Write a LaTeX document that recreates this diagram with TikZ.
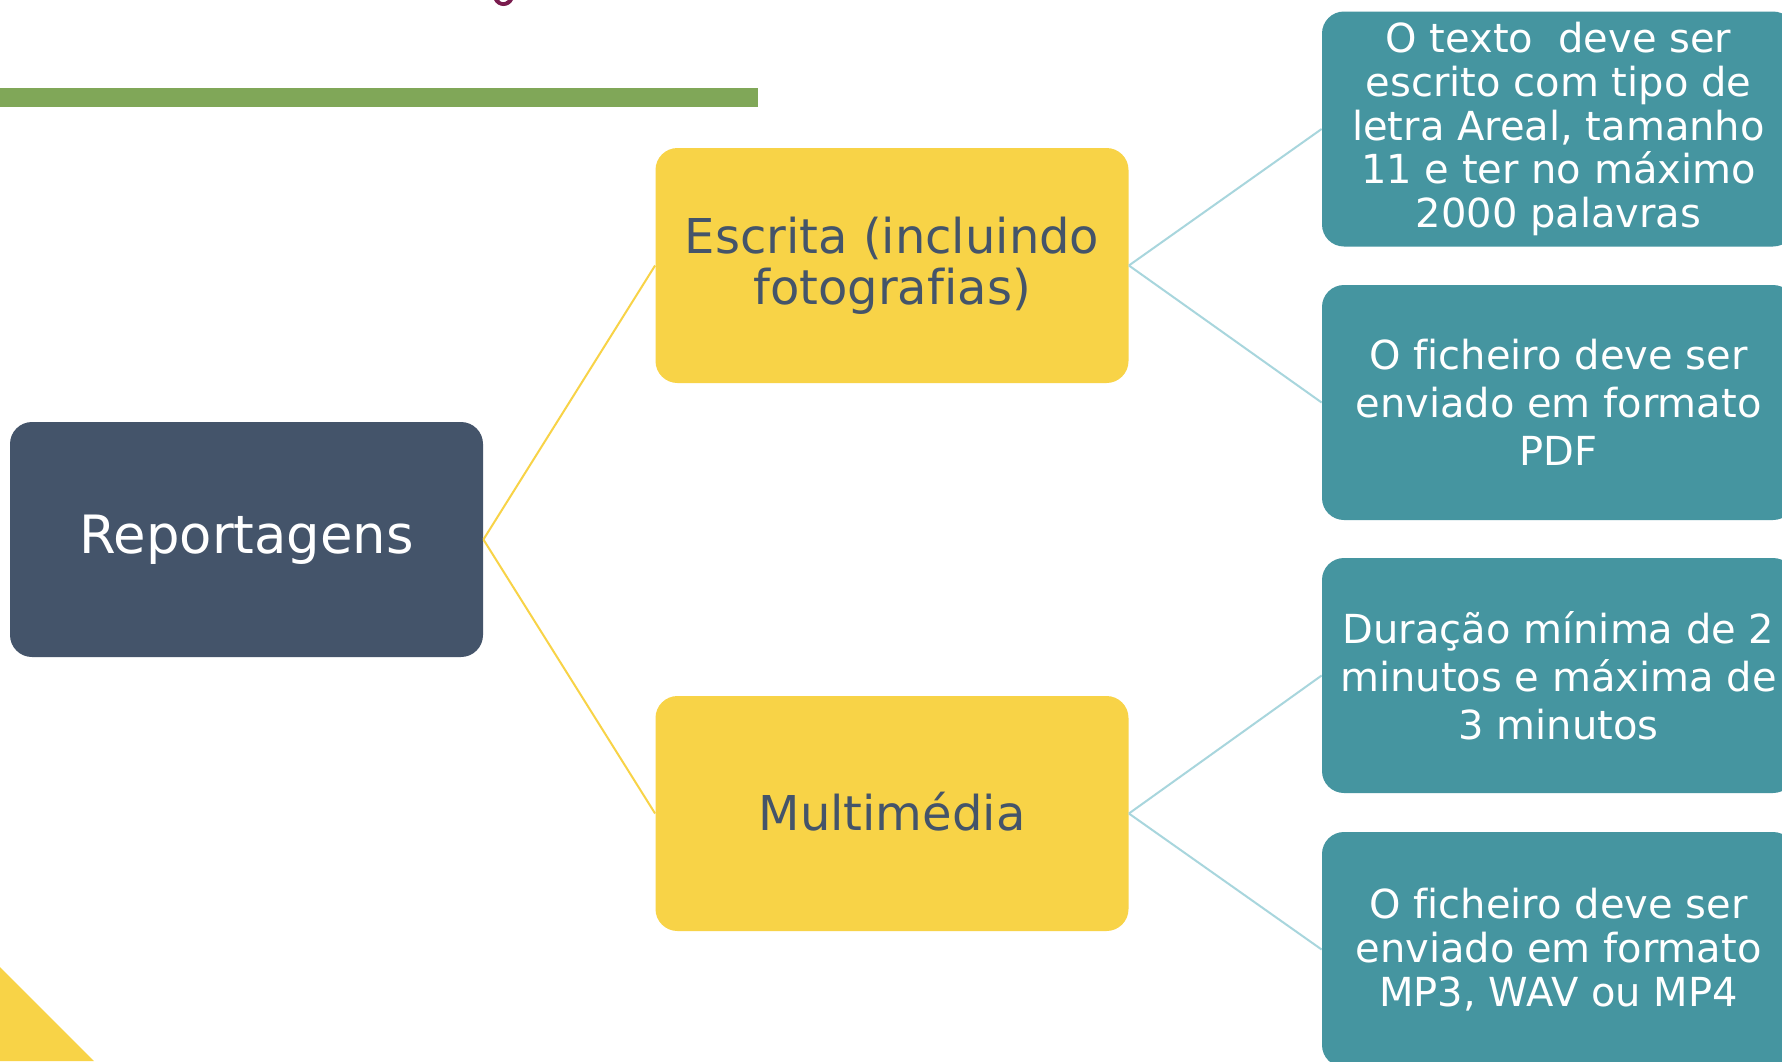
\documentclass[tikz,border=0pt]{standalone}
\usepackage{fontspec}
\setmainfont[Ligatures=NoCommon, RawFeature={-liga}]{DejaVu Sans}
\definecolor{slate}{HTML}{44546A}
\definecolor{gold}{HTML}{F8D347}
\definecolor{teal2}{HTML}{4595A0}
\definecolor{barg}{HTML}{80A758}
\definecolor{lblue}{HTML}{A8D6DD}
\definecolor{plum}{HTML}{7A1C4E}
\tikzset{
  rootbox/.style={rectangle, rounded corners=11pt, fill=slate, text=white, minimum width=236.5pt, minimum height=117.5pt, inner sep=0pt, align=center, font=\fontsize{26.4pt}{28pt}\selectfont},
  midbox/.style={rectangle, rounded corners=11pt, fill=gold, text=slate, minimum width=236.5pt, minimum height=117.5pt, inner sep=0pt, align=center, font=\fontsize{24pt}{25.5pt}\selectfont},
  leafbox/.style={rectangle, rounded corners=11pt, fill=teal2, text=white, minimum width=236.5pt, minimum height=117.5pt, inner sep=0pt, align=center},
  tight/.style={font=\fontsize{20pt}{21.9pt}\selectfont},
  loose/.style={font=\fontsize{20pt}{24pt}\selectfont},
  yline/.style={draw=gold, line width=1pt},
  bline/.style={draw=lblue, line width=1pt}
}
\begin{document}
\begin{tikzpicture}[x=0.5pt, y=-0.5pt]
\clip (0,0) rectangle (1782,1061);
\fill[white] (0,0) rectangle (1782,1061);
% decorations
\fill[barg] (0,87.5) rectangle (758,107);
\fill[gold] (0,967) -- (94,1061) -- (0,1061) -- cycle;
\fill[plum] (494,0) .. controls (498,8) and (509,8) .. (513,0) -- (508,0) .. controls (505,3) and (501,3) .. (499,0) -- cycle;
% nodes
\node[rootbox] (rep) at (246.5,539.5) {\raisebox{-3pt}{Reportagens}};
\node[midbox] (esc) at (892,265.5) {Escrita (incluindo\\fotograf\kern0pt ias)};
\node[midbox] (mul) at (892,813.5) {\raisebox{2pt}{Multimédia}};
\node[leafbox, tight] (t1) at (1558.5,129) {O texto~ deve ser\\escrito com tipo de\\letra Areal, tamanho\\11 e ter no máximo\\2000 palavras};
\node[leafbox, loose] (t2) at (1558.5,402.5) {O f\kern0pt icheiro deve ser\\enviado em formato\\PDF};
\node[leafbox, loose] (t3) at (1558.5,675.5) {Duração mínima de 2\\minutos e máxima de\\3 minutos};
\node[leafbox, tight] (t4) at (1558.5,949.5) {O f\kern0pt icheiro deve ser\\enviado em formato\\MP3, WAV ou MP4};
% connectors
\draw[yline] (rep.east) -- (esc.west);
\draw[yline] (rep.east) -- (mul.west);
\draw[bline] (esc.east) -- (t1.west);
\draw[bline] (esc.east) -- (t2.west);
\draw[bline] (mul.east) -- (t3.west);
\draw[bline] (mul.east) -- (t4.west);
\end{tikzpicture}
\end{document}
